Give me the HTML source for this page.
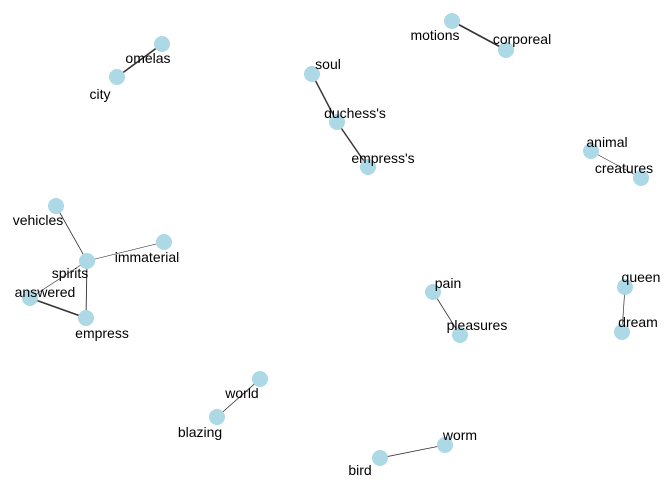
<!DOCTYPE html>
<html>
<head>
<meta charset="utf-8">
<style>
html,body{margin:0;padding:0;background:#fff;}
svg{display:block;}
text{font-family:"Liberation Sans",Arial,sans-serif;font-size:14px;fill:#000;}
</style>
</head>
<body>
<svg id="chart" width="672" height="480"></svg>
<script>
const nodeNames = ["omelas","city","motions","corporeal","soul","duchess's","empress's","animal","creatures","vehicles","immaterial","spirits","answered","empress","pain","pleasures","queen","dream","world","blazing","worm","bird"];
const nodeX = [162,117,452,506,312,337,368,591,641,56,164,87,30,86,433,460,625,622,260,217,445,380];
const nodeY = [44,77,21,50,74,122,167,151,178,206,242,261,298,318,292,335,287,332,379,417,445,458];
const labelDX = [-14,-17,-17,16,16,18,15,16,-17,-18,-17,-17,15,16,15,17,16,16,-18,-17,15,-20];
const labelDY = [14,17,14,-11,-10,-9,-9,-9,-10,14,15,12,-6,15,-9,-10,-10,-10,14,15,-10,12];
const edgeFrom = ["omelas","motions","soul","duchess's","animal","vehicles","spirits","spirits","spirits","answered","pain","queen","world","worm"];
const edgeTo = ["city","corporeal","duchess's","empress's","creatures","spirits","immaterial","answered","empress","empress","pleasures","dream","blazing","bird"];
const edgeWeight = [1.6,1.6,1.4,1.4,0.6,0.8,0.6,0.7,0.9,1.5,0.8,0.7,0.8,0.8];

const NS = "http://www.w3.org/2000/svg";
const svg = document.getElementById("chart");
const idx = n => nodeNames.indexOf(n);
const gE = document.createElementNS(NS,"g");


svg.appendChild(gE);
edgeFrom.forEach((f,i)=>{
  const a = idx(f), b = idx(edgeTo[i]);
  const l = document.createElementNS(NS,"line");
  l.setAttribute("x1",nodeX[a]); l.setAttribute("y1",nodeY[a]);
  l.setAttribute("x2",nodeX[b]); l.setAttribute("y2",nodeY[b]);
  l.setAttribute("stroke","#333"); l.setAttribute("stroke-width",edgeWeight[i]);
  
  
  gE.appendChild(l);
});
const gN = document.createElementNS(NS,"g");


svg.appendChild(gN);
nodeNames.forEach((n,i)=>{
  const c = document.createElementNS(NS,"circle");
  c.setAttribute("cx",nodeX[i]); c.setAttribute("cy",nodeY[i]); c.setAttribute("r",8);
  c.setAttribute("fill","#add8e6");
  
  
  gN.appendChild(c);
});
nodeNames.forEach((n,i)=>{
  const t = document.createElementNS(NS,"text");
  t.setAttribute("x",nodeX[i]+labelDX[i]); t.setAttribute("y",nodeY[i]+labelDY[i]+5);
  t.setAttribute("text-anchor","middle");
  t.textContent = n;
  
  
  svg.appendChild(t);
});
</script>
</body>
</html>
